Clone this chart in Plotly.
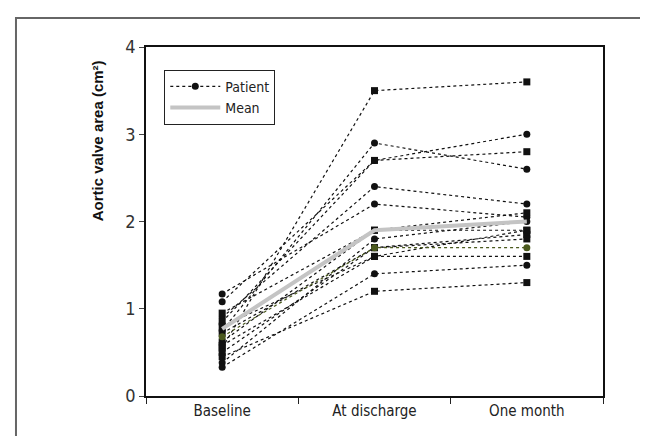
import plotly.graph_objects as go

categories = ["Baseline", "At discharge", "One month"]

# Per-patient aortic valve area (cm²): baseline, discharge, one month
patients_circle = [
    [0.75, 2.9, 2.6],
    [1.08, 2.7, 3.0],
    [0.90, 2.4, 2.2],
    [1.17, 2.2, 2.05],
    [0.38, 1.8, 2.0],
    [0.33, 1.4, 1.5],
]
patients_square = [
    [0.55, 3.5, 3.6],
    [0.85, 2.7, 2.8],
    [0.62, 1.9, 2.1],
    [0.95, 1.9, 1.9],
    [0.72, 1.7, 1.85],
    [0.50, 1.7, 1.8],
    [0.80, 1.6, 1.6],
    [0.58, 1.6, 1.9],
    [0.45, 1.2, 1.3],
]
patient_olive = [0.68, 1.7, 1.7]
mean_values = [0.77, 1.9, 2.0]

FONT = "DejaVu Sans Condensed, Liberation Sans, Arial, sans-serif"

fig = go.Figure()

line_style = dict(color="#111111", width=1.2, dash="3px,3px")

for i, vals in enumerate(patients_circle):
    fig.add_trace(go.Scatter(
        x=categories, y=vals, mode="lines+markers",
        line=line_style,
        marker=dict(symbol="circle", size=7, color="#111111"),
        name="Patient", showlegend=(i == 0), legendgroup="p",
    ))
for vals in patients_square:
    fig.add_trace(go.Scatter(
        x=categories, y=vals, mode="lines+markers",
        line=line_style,
        marker=dict(symbol="square", size=7, color="#111111"),
        name="Patient", showlegend=False, legendgroup="p",
    ))
fig.add_trace(go.Scatter(
    x=categories, y=patient_olive, mode="lines+markers",
    line=dict(color="#4b5a1e", width=1.2, dash="3px,3px"),
    marker=dict(symbol="circle", size=7, color="#4b5a1e"),
    name="Patient", showlegend=False, legendgroup="p",
))
fig.add_trace(go.Scatter(
    x=categories, y=mean_values, mode="lines",
    line=dict(color="#c4c4c4", width=4),
    name="Mean", showlegend=True,
))

# outer frame
fig.add_shape(type="rect", xref="paper", yref="paper",
              x0=-0.2845, x1=1.5, y0=-0.5, y1=1.083,
              line=dict(color="#666666", width=2), layer="below")

fig.add_annotation(
    text="<b>Aortic valve area (cm²)</b>", textangle=-90,
    xref="paper", yref="paper", x=-0.107, y=0.73,
    xanchor="center", yanchor="middle",
    showarrow=False,
    font=dict(family="Liberation Sans, Arial, sans-serif", size=15, color="#111111"),
)

fig.update_layout(
    width=648, height=436,
    margin=dict(l=138, r=53, t=39, b=48),
    paper_bgcolor="white", plot_bgcolor="white",
    font=dict(family=FONT, color="#222222"),
    legend=dict(
        x=0.04, y=0.935, xanchor="left", yanchor="top",
        bordercolor="#222222", borderwidth=1, bgcolor="white",
        font=dict(family=FONT, size=14, color="#222222"),
        itemwidth=50, tracegroupgap=0,
    ),
)
fig.update_xaxes(
    type="category", range=[-0.5, 2.5], tickson="boundaries",
    ticks="outside", ticklen=6, tickwidth=1.2, tickcolor="#222222",
    showline=True, linecolor="#111111", linewidth=2, mirror=True,
    showgrid=False, tickfont=dict(family=FONT, size=15, color="#222222"),
)
fig.update_yaxes(
    range=[0, 4], dtick=1, ticks="outside", ticklen=5, tickwidth=1.2,
    tickcolor="#444444",
    showline=True, linecolor="#111111", linewidth=1.5, mirror=True,
    showgrid=False, zeroline=False,
    tickfont=dict(family=FONT, size=18, color="#333333"),
)

fig.write_html("out.html")
